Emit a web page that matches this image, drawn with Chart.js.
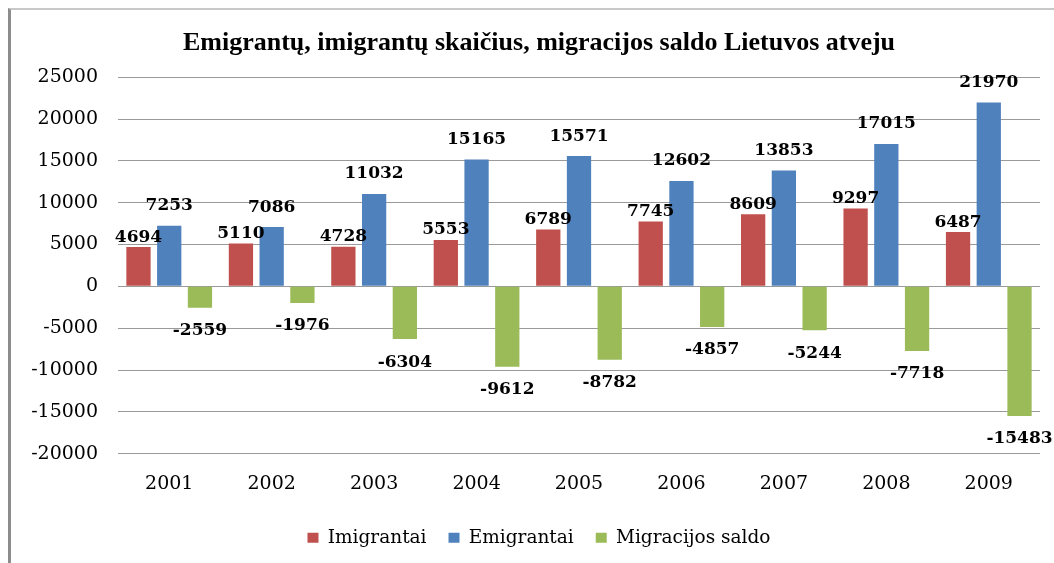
<!DOCTYPE html>
<html>
<head>
<meta charset="utf-8">
<script src="https://cdn.jsdelivr.net/npm/chart.js@4/dist/chart.umd.min.js"></script>
<style>
  html, body { margin: 0; padding: 0; background: #fff; overflow: hidden; }
  #frame {
    position: absolute; left: 8px; top: 8px; width: 1100px; height: 600px;
    border-left: 3px solid #8c8c8c; border-top: 2px solid #c8c8c8;
  }
  #wrap { position: absolute; left: 0; top: 0; width: 1054px; height: 563px; }
</style>
</head>
<body>
<div id="frame"></div>
<div id="wrap"><canvas id="myChart"></canvas></div>
<script>
const years = ['2001', '2002', '2003', '2004', '2005', '2006', '2007', '2008', '2009'];
const imigrantai = [4694, 5110, 4728, 5553, 6789, 7745, 8609, 9297, 6487];
const emigrantai = [7253, 7086, 11032, 15165, 15571, 12602, 13853, 17015, 21970];
const saldo = [-2559, -1976, -6304, -9612, -8782, -4857, -5244, -7718, -15483];
const yMin = -20000;
const yMax = 25000;
const yStep = 5000;

{
  'use strict';

  // labels over/under every bar, like excel does it
  const barLabels = {
    id: 'barLabels',
    afterDatasetsDraw: function(chart){
      const ctx = chart.ctx;
      ctx.save();
      ctx.font = 'bold 17px "DejaVu Serif"';
      ctx.fillStyle = '#000';
      ctx.textAlign = 'center';
      ctx.textBaseline = 'middle';

      chart.data.datasets.forEach(function(dataset, i){
        const meta = chart.getDatasetMeta(i);
        meta.data.forEach(function(bar, j){
          const value = dataset.data[j];
          const y = value < 0 ? bar.y + dataset.labelShift : bar.y - dataset.labelShift;
          ctx.fillText(String(value), bar.x, y);
        });
      });
      ctx.restore();
    }
  };

  // y axis is made narrower than its labels (so title + legend centre like excel),
  // widen its box again after layout so the tick labels don't get clipped
  const yAxisOverhang = {
    id: 'yAxisOverhang',
    afterLayout: function(chart){
      chart.scales.y.left = 0;
    }
  };

  const initChart = function(){
    const ctx = document.getElementById('myChart').getContext('2d');

    // eslint-disable-next-line no-undef, no-unused-vars
    const myChart = new Chart(ctx, {
      type: 'bar',
      data: {
        labels: years,
        datasets: [
          {
            label: 'Imigrantai',
            data: imigrantai,
            backgroundColor: '#C0504D',
            labelShift: 10,
          },
          {
            label: 'Emigrantai',
            data: emigrantai,
            backgroundColor: '#4F81BD',
            labelShift: 20,
          },
          {
            label: 'Migracijos saldo',
            data: saldo,
            backgroundColor: '#9BBB59',
            labelShift: 23,
          }
        ]
      },
      options: {
        responsive: true,
        maintainAspectRatio: false,
        animation: false,
        categoryPercentage: 0.9,
        barPercentage: 0.79,
        layout: {
          padding: { left: 38, right: 14, top: 10, bottom: 6 },
        },
        scales: {
          x: {
            grid: { display: false },
            border: { display: false },
            ticks: {
              padding: 11,
              color: '#000',
              font: { family: '"DejaVu Serif"', size: 19 },
            },
          },
          y: {
            min: yMin,
            max: yMax,
            border: { display: false },
            grid: { color: '#9a9a9a', lineWidth: 1, drawTicks: false },
            afterFit: function(scale){
              scale.width = 80;
            },
            ticks: {
              stepSize: yStep,
              padding: 20,
              color: '#000',
              font: { family: '"DejaVu Serif"', size: 19 },
              callback: function(value){
                return String(value);
              },
            },
          }
        },
        plugins: {
          title: {
            display: true,
            text: 'Emigrantų, imigrantų skaičius, migracijos saldo Lietuvos atveju',
            color: '#000',
            font: { family: '"Liberation Serif"', size: 26, weight: 'bold' },
            padding: { top: 18, bottom: 18 },
          },
          legend: {
            display: true,
            position: 'bottom',
            labels: {
              boxWidth: 11,
              boxHeight: 10,
              padding: 22,
              color: '#000',
              font: { family: '"DejaVu Serif"', size: 18.5 },
            },
          },
          tooltip: { enabled: false },
        },
      },
      plugins: [barLabels, yAxisOverhang],
    });
  };

  initChart();
}
</script>
</body>
</html>
